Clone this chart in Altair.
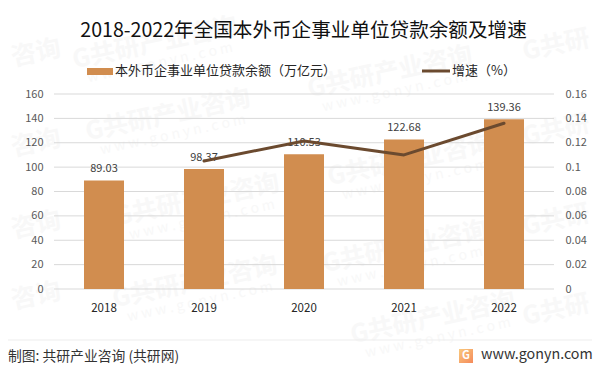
import altair as alt
import pandas as pd

years = ["2018", "2019", "2020", "2021", "2022"]
balance = [89.03, 98.37, 110.53, 122.68, 139.36]
growth_years = ["2019", "2020", "2021", "2022"]
growth = [0.105, 0.1215, 0.11, 0.136]
left_ticks = [0, 20, 40, 60, 80, 100, 120, 140, 160]
right_ticks = [0, 0.02, 0.04, 0.06, 0.08, 0.1, 0.12, 0.14, 0.16]

title_text = "2018-2022年全国本外币企事业单位贷款余额及增速"
bar_name = "本外币企事业单位贷款余额（万亿元）"
line_name = "增速（%）"
source_text = "制图: 共研产业咨询 (共研网)"
site_text = "www.gonyn.com"

# page pixel centres of the faint background watermarks
mark_x = [155, 168, 390, 410, 195, 197, 405, 433]
mark_y = [43, 115, 72, 160, 282, 200, 247, 318]
frag_text = ["咨询", "咨询", "咨询", "咨询", "G共研", "G共研", "G共研", "G共研"]
frag_x = [36, 36, 36, 36, 556, 556, 556, 556]
frag_y = [53, 143, 225, 296, 45, 130, 220, 310]

LEFT, TOP = 54, 94
W, H = 500, 195
FONT = "Noto Sans CJK SC"
BAR = "#D18D4F"
LINE = "#6B4A2F"
GRID = "#D9D9D9"
WM = "#F8F8F8"

bar_df = pd.DataFrame({"year": years, "value": balance})
line_df = pd.DataFrame({"year": growth_years, "rate": growth})
tick_df = pd.DataFrame({"value": left_ticks})

x = alt.X("year:N", sort=years, title=None,
          scale=alt.Scale(domain=years, paddingInner=0.6, paddingOuter=0.3),
          axis=alt.Axis(labelAngle=0, labelFont=FONT, labelFontSize=11.5, labelColor="#262626",
                        domain=False, ticks=False, grid=False, labelPadding=13, zindex=1))

def px(v):
    return alt.value(v - LEFT)

def py(v):
    return alt.value(v - TOP)

def text(s, xp, yp, size, color, align="left", weight="normal", angle=0):
    return alt.Chart(pd.DataFrame({"t": [s]})).mark_text(
        font=FONT, fontSize=size, color=color, align=align, baseline="middle",
        fontWeight=weight, angle=angle
    ).encode(x=px(xp), y=py(yp), text="t:N")

wm_brand = alt.Chart(pd.DataFrame({"px": [v - LEFT for v in mark_x], "py": [v - TOP for v in mark_y]})).transform_calculate(
    t="'G共研产业咨询'"
).mark_text(font=FONT, fontSize=25, fontWeight="bold", color=WM, angle=348).encode(
    x=alt.X("px:Q", scale=None), y=alt.Y("py:Q", scale=None), text="t:N")
wm_site = alt.Chart(pd.DataFrame({"px": [v - LEFT + 5 for v in mark_x], "py": [v - TOP + 20 for v in mark_y]})).transform_calculate(
    t="'w w w . g o n y n . c o m'"
).mark_text(font=FONT, fontSize=14, color=WM, angle=348).encode(
    x=alt.X("px:Q", scale=None), y=alt.Y("py:Q", scale=None), text="t:N")
wm_frag = alt.Chart(pd.DataFrame({"t": frag_text, "px": [v - LEFT for v in frag_x], "py": [v - TOP for v in frag_y]})).mark_text(
    font=FONT, fontSize=25, fontWeight="bold", color=WM, angle=348).encode(
    x=alt.X("px:Q", scale=None), y=alt.Y("py:Q", scale=None), text="t:N")

left_axis = alt.Axis(values=left_ticks, labelFont=FONT, labelFontSize=11, labelColor="#595959",
                     domain=False, ticks=False, grid=False, labelPadding=11, title=None, zindex=1)
y_left = alt.Y("value:Q", scale=alt.Scale(domain=[0, 160], nice=False), axis=left_axis)

grid = alt.Chart(tick_df).mark_rule(color=GRID, strokeWidth=1).encode(
    y=y_left, x=alt.value(0), x2=alt.value(W))
bars = alt.Chart(bar_df).mark_bar(color=BAR, size=40).encode(x=x, y=y_left)
labels = alt.Chart(bar_df).mark_text(font=FONT, fontSize=11, color="#404040", baseline="bottom", dy=-6).encode(
    x=x, y=y_left, text=alt.Text("value:Q", format=".2f"))

right_axis = alt.Axis(values=right_ticks, format="~g", orient="right",
                      labelFont=FONT, labelFontSize=11, labelColor="#595959", domain=False, ticks=False,
                      grid=False, labelPadding=11, title=None, zindex=1)
line = alt.Chart(line_df).mark_line(color=LINE, strokeWidth=3, strokeCap="round", strokeJoin="round").encode(
    x=x, y=alt.Y("rate:Q", scale=alt.Scale(domain=[0, 0.16], nice=False), axis=right_axis))

legend_bar = alt.Chart(pd.DataFrame({"a": [0]})).mark_rect(color=BAR).encode(
    x=px(87), x2=px(113), y=py(68), y2=py(75))
legend_line = alt.Chart(pd.DataFrame({"a": [0]})).mark_rule(color=LINE, strokeWidth=3).encode(
    x=px(422), x2=px(450), y=py(71))
foot_rule = alt.Chart(pd.DataFrame({"a": [0]})).mark_rule(color="#EDEDED", strokeWidth=1).encode(
    x=px(8), x2=px(592), y=py(340))
logo = alt.Chart(pd.DataFrame({"a": [0]})).mark_rect(
    color=alt.Gradient(gradient="linear", x1=0, y1=0, x2=1, y2=1,
                       stops=[alt.GradientStop(color="#F9C97C", offset=0),
                              alt.GradientStop(color="#F58A5B", offset=1)])
).encode(x=px(459), x2=px(473), y=py(349), y2=py(363))

chart = alt.layer(
    wm_brand, wm_site, wm_frag,
    alt.layer(grid, bars, labels),
    line,
    legend_bar, legend_line, foot_rule, logo,
    text("G", 466, 356, 11, "#FFFFFF", align="center", weight="bold"),
    text(title_text, 303.5, 31, 19.6, "#111111", align="center"),
    text(bar_name, 115, 71, 13, "#262626"),
    text(line_name, 452, 71, 13, "#262626"),
    text(source_text, 8, 357, 13.8, "#333333"),
    text(site_text, 481, 355, 14.3, "#333333"),
).resolve_scale(y="independent").properties(
    width=W, height=H, padding={"left": 46, "top": 86, "right": 39, "bottom": 77},
    autosize=alt.AutoSizeParams(type="none"), background="white"
).configure_view(stroke=None)

chart.save("out.html", embed_options={"renderer": "svg", "actions": False})
